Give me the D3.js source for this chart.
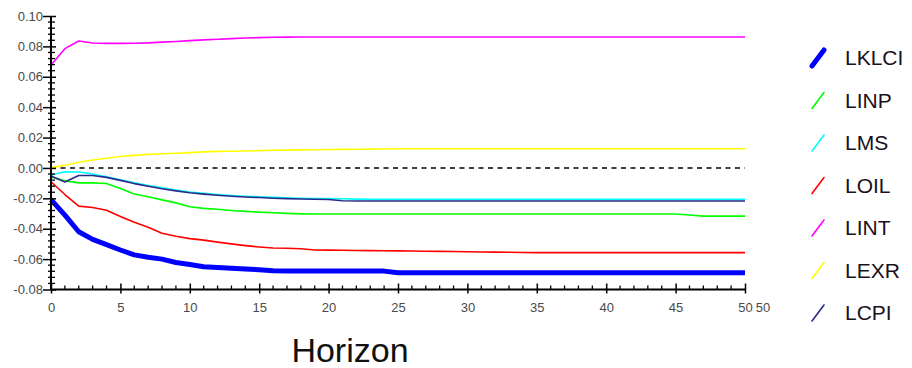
<!DOCTYPE html>
<html>
<head>
<meta charset="utf-8">
<script src="https://cdn.jsdelivr.net/npm/d3@7/dist/d3.min.js"></script>
<style>
  body { margin: 0; background: #fff; }
  svg { display: block; }
  text { font-family: "Liberation Sans", Arial, sans-serif; }
</style>
</head>
<body>
<svg id="chart" width="912" height="368"></svg>
<script>
// Impulse responses over a 50-period horizon
const horizons = d3.range(0, 51);

const lklci = [-0.0208, -0.031, -0.042, -0.047, -0.0505, -0.054, -0.0572, -0.0588, -0.060, -0.0622,
  -0.0635, -0.065, -0.0655, -0.066, -0.0665, -0.067, -0.0677,
  -0.0679, -0.0679, -0.0679, -0.0679, -0.0679, -0.0679, -0.0679, -0.0679,
  -0.069, -0.069, -0.069, -0.069, -0.069, -0.069, -0.069, -0.069, -0.069, -0.069,
  -0.069, -0.069, -0.069, -0.069, -0.069, -0.069, -0.069, -0.069, -0.069, -0.069,
  -0.069, -0.069, -0.069, -0.069, -0.069, -0.069];

const linp = [-0.0058, -0.0085, -0.0098, -0.0098, -0.0102, -0.0135, -0.0172, -0.019, -0.021, -0.023,
  -0.0255, -0.0266, -0.0272, -0.028, -0.0286, -0.0291, -0.0295, -0.0299, -0.0302,
  -0.0303, -0.0303, -0.0303, -0.0303, -0.0303, -0.0303, -0.0303, -0.0303, -0.0303, -0.0303,
  -0.0303, -0.0303, -0.0303, -0.0303, -0.0303, -0.0303, -0.0303, -0.0303, -0.0303, -0.0303,
  -0.0303, -0.0303, -0.0303, -0.0303, -0.0303, -0.0303, -0.0303,
  -0.031, -0.0317, -0.0317, -0.0317, -0.0317];

const lms = [-0.0047, -0.0025, -0.0027, -0.004, -0.0058, -0.0078, -0.0098, -0.0115, -0.013, -0.0145,
  -0.0158, -0.0167, -0.0175, -0.0181, -0.0186, -0.019, -0.0194, -0.0197, -0.0199, -0.0201,
  -0.0202, -0.0203, -0.0205,
  -0.0207, -0.0207, -0.0207, -0.0207, -0.0207, -0.0207, -0.0207, -0.0207, -0.0207, -0.0207,
  -0.0207, -0.0207, -0.0207, -0.0207, -0.0207, -0.0207, -0.0207, -0.0207, -0.0207, -0.0207,
  -0.0207, -0.0207, -0.0207, -0.0207, -0.0207, -0.0207, -0.0207, -0.0207];

const loil = [-0.0091, -0.0175, -0.0251, -0.026, -0.0278, -0.0319, -0.0358, -0.039, -0.043, -0.045,
  -0.0465, -0.0475, -0.0488, -0.050, -0.0511, -0.052, -0.0527, -0.0529, -0.0532, -0.054,
  -0.0541, -0.0542, -0.0543, -0.0544, -0.0545, -0.0546, -0.0547, -0.0548, -0.0549, -0.055,
  -0.0552, -0.0553, -0.0554, -0.0555, -0.0556,
  -0.0557, -0.0557, -0.0557, -0.0557, -0.0557, -0.0557, -0.0557, -0.0557, -0.0557, -0.0557,
  -0.0557, -0.0557, -0.0557, -0.0557, -0.0557, -0.0557];

const lint = [0.0677, 0.0785, 0.0835, 0.0822, 0.082, 0.082, 0.0821, 0.0823, 0.0828, 0.0832,
  0.0838, 0.0843, 0.0847, 0.0851, 0.0855, 0.0858, 0.086, 0.0861,
  0.0862, 0.0862, 0.0862, 0.0862, 0.0862, 0.0862, 0.0862, 0.0862, 0.0862, 0.0862,
  0.0862, 0.0862, 0.0862, 0.0862, 0.0862, 0.0862, 0.0862, 0.0862, 0.0862, 0.0862,
  0.0862, 0.0862, 0.0862, 0.0862, 0.0862, 0.0862, 0.0862, 0.0862, 0.0862, 0.0862,
  0.0862, 0.0862, 0.0862];

const lexr = [0.0002, 0.0018, 0.0038, 0.0052, 0.0064, 0.0075, 0.0083, 0.0089, 0.0093, 0.0097,
  0.0101, 0.0106, 0.0109, 0.011, 0.0112, 0.0114, 0.0116, 0.0117, 0.0119, 0.012,
  0.0121, 0.0122, 0.0123, 0.0124, 0.0125,
  0.0126, 0.0126, 0.0126, 0.0126, 0.0126, 0.0126, 0.0126, 0.0126, 0.0126, 0.0126,
  0.0126, 0.0126, 0.0126, 0.0126, 0.0126, 0.0126, 0.0126, 0.0126, 0.0126, 0.0126,
  0.0126, 0.0126, 0.0126, 0.0126, 0.0126, 0.0126];

const lcpi = [-0.0053, -0.0092, -0.005, -0.005, -0.0062, -0.0082, -0.0103, -0.012, -0.0137, -0.0151,
  -0.0163, -0.0172, -0.018, -0.0186, -0.0191, -0.0195, -0.0199, -0.0202, -0.0204, -0.0206,
  -0.0208, -0.0216,
  -0.0218, -0.0218, -0.0218, -0.0218, -0.0218, -0.0218, -0.0218, -0.0218, -0.0218, -0.0218,
  -0.0218, -0.0218, -0.0218, -0.0218, -0.0218, -0.0218, -0.0218, -0.0218, -0.0218, -0.0218,
  -0.0218, -0.0218, -0.0218, -0.0218, -0.0218, -0.0218, -0.0218, -0.0218, -0.0218];

const seriesNames = ["LKLCI", "LINP", "LMS", "LOIL", "LINT", "LEXR", "LCPI"];
const seriesValues = [lklci, linp, lms, loil, lint, lexr, lcpi];

const yMajorTicks = [0.10, 0.08, 0.06, 0.04, 0.02, 0.00, -0.02, -0.04, -0.06, -0.08];
const xMajorTicks = [0, 5, 10, 15, 20, 25, 30, 35, 40, 45, 50];
const xAxisEndLabel = "50";
const xAxisTitle = "Horizon";

// drawing styles
const colors = {
  LKLCI: "#0000ff", LINP: "#00ff00", LMS: "#00ffff", LOIL: "#ff0000",
  LINT: "#ff00ff", LEXR: "#ffff00", LCPI: "#2b2b8c"
};
const widths = { LKLCI: 5 };

const svg = d3.select("#chart");
const x = d3.scaleLinear().domain([0, 50]).range([51, 745]);
const y = d3.scaleLinear().domain([-0.08, 0.10]).range([289.5, 16]);

const fmt = v => {
  const s = d3.format(".2f")(Math.abs(v));
  return (v < -1e-9 ? "-" : "") + s;
};

// zero reference line
svg.append("line")
  .attr("x1", x(0)).attr("x2", x(50))
  .attr("y1", y(0)).attr("y2", y(0))
  .attr("stroke", "#000").attr("stroke-width", 1.6)
  .attr("stroke-dasharray", "5,4.5");

// series lines
const line = d3.line()
  .x((d, i) => x(horizons[i]))
  .y(d => y(d));

seriesNames.forEach((name, k) => {
  svg.append("path")
    .datum(seriesValues[k])
    .attr("fill", "none")
    .attr("stroke", colors[name])
    .attr("stroke-width", widths[name] || 1.6)
    .attr("stroke-linejoin", "round")
    .attr("d", line);
});

// y axis: majors cross the axis, minors are short
const yMinor = d3.range(-0.08, 0.1001, 0.004).filter(v => !yMajorTicks.some(m => Math.abs(m - v) < 1e-6));
const gy = svg.append("g").attr("transform", `translate(${x(0)},0)`);
gy.call(d3.axisLeft(y).tickValues(yMajorTicks).tickFormat(fmt).tickSize(0).tickPadding(8));
gy.select(".domain").remove();
gy.selectAll(".tick text").attr("font-size", 13).attr("fill", "#4a4a4a")
  .attr("font-family", "'Liberation Sans', Arial, sans-serif");
gy.selectAll(".tick").append("line")
  .attr("x1", -8).attr("x2", 5).attr("stroke", "#000").attr("stroke-width", 1.5);
gy.selectAll(".minor").data(yMinor).join("line")
  .attr("class", "minor")
  .attr("x1", -3).attr("x2", 4)
  .attr("y1", d => y(d)).attr("y2", d => y(d))
  .attr("stroke", "#000").attr("stroke-width", 1.3);

// x axis
const xMinor = d3.range(0, 51).filter(v => v % 5 !== 0);
const gx = svg.append("g").attr("transform", `translate(0,${y(-0.08)})`);
gx.call(d3.axisBottom(x).tickValues(xMajorTicks).tickFormat(d3.format("d")).tickSize(0).tickPadding(13));
gx.select(".domain").remove();
gx.selectAll(".tick text").attr("font-size", 13).attr("fill", "#4a4a4a")
  .attr("font-family", "'Liberation Sans', Arial, sans-serif");
gx.selectAll(".tick").append("line")
  .attr("y1", -6).attr("y2", 4).attr("stroke", "#000").attr("stroke-width", 1.5);
gx.selectAll(".minor").data(xMinor).join("line")
  .attr("class", "minor")
  .attr("x1", d => x(d)).attr("x2", d => x(d))
  .attr("y1", -4).attr("y2", 0)
  .attr("stroke", "#000").attr("stroke-width", 1.3);
gx.append("text")
  .attr("x", x(50) + 18).attr("y", 13 + 9.5)
  .attr("text-anchor", "middle")
  .attr("font-size", 13).attr("fill", "#4a4a4a")
  .text(xAxisEndLabel);

// axis lines
svg.append("line")
  .attr("x1", x(0)).attr("x2", x(0)).attr("y1", y(0.10)).attr("y2", y(-0.08))
  .attr("stroke", "#000").attr("stroke-width", 2);
svg.append("line")
  .attr("x1", x(0)).attr("x2", x(50)).attr("y1", y(-0.08)).attr("y2", y(-0.08))
  .attr("stroke", "#000").attr("stroke-width", 2);

// axis title
svg.append("text")
  .attr("x", 350).attr("y", 362)
  .attr("text-anchor", "middle")
  .attr("font-size", 34).attr("fill", "#111")
  .text(xAxisTitle);

// legend
const legend = svg.append("g");
seriesNames.forEach((name, k) => {
  const by = 65 + k * 42.5;
  legend.append("line")
    .attr("x1", 812).attr("y1", by + 1)
    .attr("x2", 824).attr("y2", by - 15)
    .attr("stroke", colors[name])
    .attr("stroke-width", widths[name] || 1.6)
    .attr("stroke-linecap", "round");
  legend.append("text")
    .attr("x", 845).attr("y", by)
    .attr("font-size", 21).attr("fill", "#1a1020")
    .text(name);
});
</script>
</body>
</html>
